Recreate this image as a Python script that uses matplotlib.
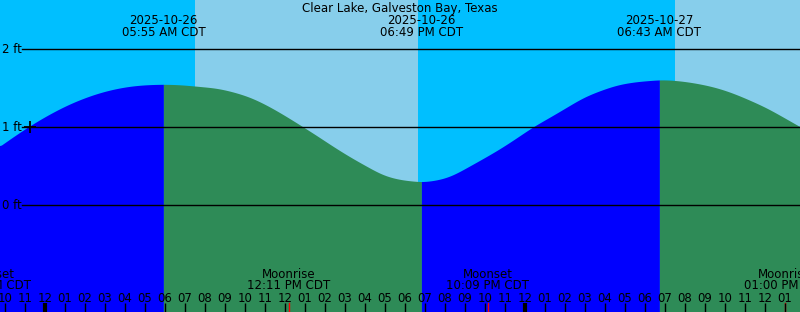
import numpy as np
import matplotlib.pyplot as plt
from matplotlib.transforms import blended_transform_factory

# Tide curve, Clear Lake, Galveston Bay -- hours since 2025-10-26 00:00 CDT, height in ft
hours = [-2.25, -1.4, -0.6, 0.25, 1.1, 1.9, 2.75, 3.6, 4.4, 5.25, 5.92,
         6.9, 7.75, 8.6, 9.4, 10.25, 11.1, 11.9, 12.75, 13.6, 14.4, 15.25,
         16.1, 16.9, 17.75, 18.35, 18.82,
         19.4, 20.25, 21.1, 21.9, 22.75, 23.6, 24.4, 25.25, 26.1, 26.9, 27.75,
         28.6, 29.4, 30.25, 30.72,
         31.75, 32.75, 33.6, 34.4, 35.25, 36.1, 36.9, 37.75]
height_ft = [0.756, 0.907, 1.040, 1.167, 1.278, 1.365, 1.439, 1.493, 1.526, 1.543, 1.547,
             1.538, 1.519, 1.494, 1.449, 1.378, 1.276, 1.160, 1.026, 0.887, 0.753, 0.618,
             0.494, 0.391, 0.329, 0.308, 0.301,
             0.314, 0.372, 0.481, 0.596, 0.724, 0.865, 1.000, 1.128, 1.256, 1.372, 1.465,
             1.535, 1.574, 1.596, 1.603,
             1.590, 1.551, 1.500, 1.432, 1.342, 1.240, 1.128, 1.004]

# high / low tide events
tide_times = [5.92, 18.82, 30.72]
tide_dates = ['2025-10-26', '2025-10-26', '2025-10-27']
tide_clock = ['05:55 AM CDT', '06:49 PM CDT', '06:43 AM CDT']

# sunrise / sunset
sunrise = [7.5, 31.5]
sunset = [18.65]

# moon events
moon_times = [-2.75, 12.18, 22.15, 37.0]
moon_names = ['Moonset', 'Moonrise', 'Moonset', 'Moonrise']
moon_clock = ['09:15 PM CDT', '12:11 PM CDT', '10:09 PM CDT', '01:00 PM CDT']

levels = [0, 1, 2]
x0, x1 = -2.25, 37.75
y0, y1 = -1.372, 2.628

day_color = '#87CEEB'
night_color = '#00BFFF'
flood_color = '#0000FF'
ebb_color = '#2E8B57'
FS = 8.5
H = 312.0


def smooth(x, y, n=12):
    # natural cubic spline through the read points, only for drawing
    x = np.asarray(x, float)
    y = np.asarray(y, float)
    k = len(x)
    hx = np.diff(x)
    A = np.zeros((k, k))
    r = np.zeros(k)
    A[0, 0] = A[-1, -1] = 1
    for i in range(1, k - 1):
        A[i, i - 1] = hx[i - 1]
        A[i, i] = 2 * (hx[i - 1] + hx[i])
        A[i, i + 1] = hx[i]
        r[i] = 6 * ((y[i + 1] - y[i]) / hx[i] - (y[i] - y[i - 1]) / hx[i - 1])
    M = np.linalg.solve(A, r)
    xs, ys = [], []
    for i in range(k - 1):
        s = np.linspace(x[i], x[i + 1], n, endpoint=False)
        a = x[i + 1] - s
        b = s - x[i]
        v = (M[i] * a**3 + M[i + 1] * b**3) / (6 * hx[i]) \
            + (y[i] / hx[i] - M[i] * hx[i] / 6) * a + (y[i + 1] / hx[i] - M[i + 1] * hx[i] / 6) * b
        xs.append(s)
        ys.append(v)
    xs.append([x[-1]])
    ys.append([y[-1]])
    return np.concatenate(xs), np.concatenate(ys)


plt.rcParams['font.family'] = 'DejaVu Sans'
plt.rcParams['font.size'] = FS

fig = plt.figure(figsize=(8, 3.12), dpi=100)
ax = fig.add_axes([0, 0, 1, 1])
ax.set_xlim(x0, x1)
ax.set_ylim(y0, y1)
ax.axis('off')

# background: night / day
ax.axvspan(x0 - 1, x1 + 1, color=night_color, lw=0)
for rise, set_ in zip(sunrise, sunset + [x1 + 1]):
    ax.axvspan(rise, set_, color=day_color, lw=0)

# tide fill, rising = blue, falling = green
t, h = smooth(hours, height_ft)
bounds = [x0] + tide_times + [x1]
rising = height_ft[1] > height_ft[0]
for a, b in zip(bounds[:-1], bounds[1:]):
    m = (t >= a - 1e-9) & (t <= b + 1e-9)
    tt = t[m].copy()
    if a == x0:
        tt[0] = x0 - 0.1
    if b == x1:
        tt[-1] = x1 + 0.1
    ax.fill_between(tt, y0 - 0.1, h[m], color=flood_color if rising else ebb_color, lw=0)
    rising = not rising

trans = blended_transform_factory(ax.transData, ax.transAxes)
ytrans = blended_transform_factory(ax.transAxes, ax.transData)

# level lines
for lv in levels:
    ax.axhline(lv, xmin=22 / 800, xmax=1, color='black', lw=1)
    ax.text(2 / 800, lv - 4.3 / 78, f'{lv} ft', transform=ytrans,
            ha='left', va='baseline', fontsize=FS)

ax.plot([-0.75], [1], marker='+', color='black', markersize=8, mew=1.3)

ax.text(0.5, 1 - 11.7 / H, 'Clear Lake, Galveston Bay, Texas', transform=ax.transAxes,
        ha='center', va='baseline', fontsize=FS)
for tt, d, c in zip(tide_times, tide_dates, tide_clock):
    ax.text(tt, 1 - 24 / H, d, transform=trans, ha='center', va='baseline', fontsize=FS)
    ax.text(tt, 1 - 35.7 / H, c, transform=trans, ha='center', va='baseline', fontsize=FS)

for tt, n, c in zip(moon_times, moon_names, moon_clock):
    ax.text(tt, 1 - 277.7 / H, n, transform=trans, ha='center', va='baseline', fontsize=FS)
    ax.text(tt, 1 - 289.3 / H, c, transform=trans, ha='center', va='baseline', fontsize=FS)
    ax.plot([tt, tt], [0, 9 / H], transform=trans, color='red', lw=1)

# hour ticks
for hr in range(-2, 38):
    lab = hr % 12
    lab = 12 if lab == 0 else lab
    ax.text(hr, 1 - 301.7 / H, f'{lab:02d}', transform=trans, ha='center', va='baseline', fontsize=FS)
    ax.plot([hr, hr], [0, 9 / H], transform=trans, color='black',
            lw=3 if hr % 24 == 0 else 1, solid_capstyle='butt')

fig.savefig('out.png', dpi=100)
